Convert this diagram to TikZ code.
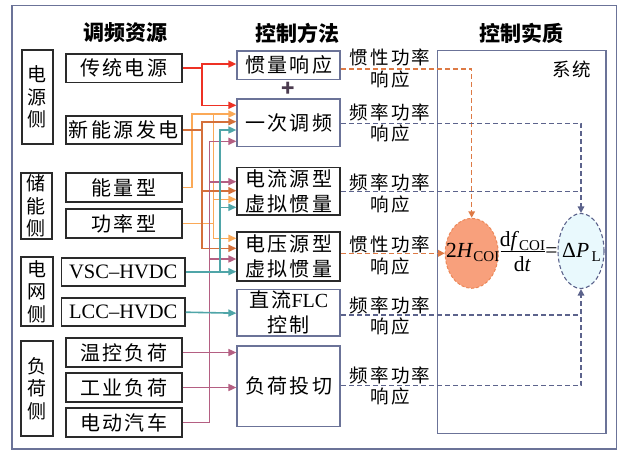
\documentclass[tikz,border=0pt]{standalone}
\usepackage{fontspec}
\setmainfont{Liberation Serif}
\newfontfamily\cjk[LetterSpace=12]{Noto Sans CJK SC}
\newfontfamily\cjkh{Noto Sans CJK SC}
\usetikzlibrary{arrows.meta,shapes.geometric}
\definecolor{gb}{HTML}{6B7398}
\definecolor{bk}{HTML}{2A2A2A}
\definecolor{cred}{HTML}{EE3124}
\definecolor{clo}{HTML}{FBA957}
\definecolor{cdo}{HTML}{D4703A}
\definecolor{ctl}{HTML}{4FA5A8}
\definecolor{cpk}{HTML}{B45F82}
\definecolor{dor}{HTML}{DD7A45}
\definecolor{dgb}{HTML}{5C638C}
\definecolor{efill}{HTML}{F8A07C}
\definecolor{eline}{HTML}{EC8858}
\definecolor{bfill}{HTML}{E9F9FD}
\definecolor{pl}{HTML}{4B3B4F}
\begin{document}
\begin{tikzpicture}[x=1pt,y=-1pt,
  rbox/.style={draw=bk,line width=1.6pt,inner sep=0pt,minimum width=116pt,minimum height=28.5pt,font=\cjk\fontsize{20}{24}\selectfont},
  lbox/.style={rbox,minimum width=123.3pt,minimum height=28pt,font=\rmfamily\fontsize{20.5}{24}\selectfont},
  sbox/.style={draw=bk,line width=1.6pt,inner sep=0pt,minimum width=31pt,align=center,font=\cjk\fontsize{19}{22.5}\selectfont},
  mbox/.style={draw=gb,line width=1.6pt,inner sep=0pt,minimum width=103pt,align=center,font=\cjk\fontsize{20}{25}\selectfont},
  kbox/.style={mbox,draw=bk},
  ttl/.style={font=\cjkh\bfseries\fontsize{21}{24}\selectfont},
  lbl/.style={align=center,inner sep=0pt,font=\cjk\fontsize{18.5}{21.5}\selectfont},
  con/.style={line width=1.6pt,-{Triangle[length=8pt,width=7pt]}},
  dsh/.style={line width=1.5pt,dash pattern=on 5pt off 3pt},
  dtip/.style={-{Triangle[length=6.5pt,width=6.5pt]}},
  fm/.style={inner sep=0pt,font=\rmfamily\fontsize{21.5}{24}\selectfont}
]
\useasboundingbox (0,0) rectangle (618,450);
\draw[gb,line width=1.5pt] (12,5.5) rectangle (616.7,449);

% titles
\node[ttl] (t1) at (125,33) {调频资源};
\node[ttl] (t2) at (297,33) {控制方法};
\node[ttl] (t3) at (521.7,33) {控制实质};

% side labels
\node[sbox,minimum height=94pt] (s1) at (37.2,97) {电\\源\\侧};
\node[sbox,minimum height=66pt] (s2) at (36.5,206) {储\\能\\侧};
\node[sbox,minimum height=69pt,minimum width=32pt] (s3) at (37,291.5) {电\\网\\侧};
\node[sbox,minimum height=95pt,minimum width=32pt] (s4) at (37,388.4) {负\\荷\\侧};

% resources
\node[rbox] (r1) at (123.7,68.2) {传统电源};
\node[rbox] (r2) at (123.7,130) {新能源发电};
\node[rbox] (r3) at (123.7,187.5) {能量型};
\node[rbox] (r4) at (123.7,223.5) {功率型};
\node[lbox] (r5) at (123.3,271.7) {VSC–HVDC};
\node[lbox] (r6) at (123.3,312.2) {LCC–HVDC};
\node[rbox] (r7) at (123.7,352.5) {温控负荷};
\node[rbox] (r8) at (123.7,387.5) {工业负荷};
\node[rbox] (r9) at (123.7,422.5) {电动汽车};

% methods
\node[mbox,minimum height=28.6pt] (m1) at (288.7,65) {惯量响应};
\node[font=\cjkh\bfseries\fontsize{22}{22}\selectfont,text=pl,inner sep=0pt] (pl) at (288,89) {+};
\node[mbox,minimum height=47.7pt] (m2) at (288.7,122.8) {一次调频};
\node[kbox,minimum height=47.3pt] (m3) at (288.7,191.3) {电流源型\\虚拟惯量};
\node[kbox,minimum height=49pt] (m4) at (288.7,256.2) {电压源型\\虚拟惯量};
\node[mbox,minimum height=46.7pt] (m5) at (288.7,312.7) {直流{\rmfamily FLC}\\控制};
\node[mbox,minimum height=80.7pt] (m6) at (288.7,386.3) {负荷投切};

% system
\node[draw=gb,line width=1.6pt,minimum width=168.7pt,minimum height=382.7pt,inner sep=0pt] (sys) at (521.7,242) {};
\node[inner sep=0pt,font=\cjk\fontsize{18.5}{21}\selectfont] (sl) at (571.7,69.3) {系统};

% response labels
\node[lbl] (l1) at (390,68.7) {惯性功率\\响应};
\node[lbl] (l2) at (390,122.8) {频率功率\\响应};
\node[lbl] (l3) at (390,193.5) {频率功率\\响应};
\node[lbl] (l4) at (390,255.5) {惯性功率\\响应};
\node[lbl] (l5) at (390,315.8) {频率功率\\响应};
\node[lbl] (l6) at (390,386) {频率功率\\响应};

% ellipses and formula
\node[ellipse,draw=eline,fill=efill,dash pattern=on 3pt off 2pt,line width=1pt,minimum width=53pt,minimum height=70pt,inner sep=0pt] (e1) at (471.7,253.3) {};
\node[ellipse,draw=dgb,fill=bfill,dash pattern=on 4pt off 2.5pt,line width=1.1pt,minimum width=46pt,minimum height=75pt,inner sep=0pt] (e2) at (581,251) {};
\node[fm,anchor=base west] (f1) at (446,257) {2\textit{H}\raisebox{-4pt}{\fontsize{15}{15}\selectfont COI}};
\node[fm,anchor=base] (f2) at (522.5,246) {d\textit{f}\raisebox{-4pt}{\fontsize{15}{15}\selectfont COI}};
\node[fm,anchor=base] (f3) at (522.5,271) {d\textit{t}};
\coordinate (fb1) at (500.5,251);
\coordinate (fb2) at (545,251);
\draw[line width=0.9pt] (fb1) -- (fb2);
\node[fm,anchor=base] (f4) at (551.5,257) {=};
\node[fm,anchor=base west] (f5) at (562,257) {Δ\textit{P}\raisebox{-4pt}{\fontsize{15}{15}\selectfont \,L}};

% junction columns
\coordinate (xlo) at (192,0);
\coordinate (xrd) at (202,0);
\coordinate (xpk) at (209.3,0);
\coordinate (xlp) at (213.5,0);
\coordinate (xtl) at (220,0);

% red
\draw[con,cred] (r1.east) -- (r1.east -| xrd) |- ([yshift=1pt]m1.west);
\draw[con,cred] (r1.east -| xrd) |- ([yshift=17.5pt]m2.west);
% light orange
\draw[con,clo] (r3.east) -- (r3.east -| xlo) |- ([yshift=8.8pt]m2.west);
\draw[con,clo] ([yshift=8.8pt]m2.west -| xlp) |- ([yshift=-8pt]m3.west);
\draw[con,clo] (r4.east) -- (r4.east -| xlp) |- ([yshift=17.9pt]m4.west);
\draw[line width=1.6pt,clo] ([yshift=8.8pt]m2.west -| xlp) -- (r4.east -| xlp);
% dark orange
\draw[con,cdo] (r2.east) -- (r2.east -| xrd) |- ([yshift=1.1pt]m2.west);
\draw[con,cdo] (r2.east -| xrd) |- ([yshift=0.6pt]m3.west);
\draw[con,cdo] (r2.east -| xrd) |- ([yshift=7.9pt]m4.west);
% pink
\draw[con,cpk] (r9.east) -- (r9.east -| xpk) |- ([yshift=-18.5pt]m2.west);
\draw[con,cpk] (r9.east -| xpk) |- ([yshift=9.6pt]m3.west);
\draw[con,cpk] (r9.east -| xpk) |- ([yshift=-2.8pt]m4.west);
\draw[con,cpk] (r7.east) -- ([yshift=33.8pt]m6.west);
\draw[con,cpk] (r8.east) -- ([yshift=-1.2pt]m6.west);
% teal
\draw[con,ctl] (r5.east) -- ([yshift=-15.5pt]m4.west);
\draw[con,ctl] (r5.east -| xtl) |- ([yshift=-16pt]m3.west);
\draw[con,ctl] (r5.east -| xtl) |- ([yshift=-7.2pt]m2.west);
\draw[con,ctl] (r6.east) -- ([yshift=-0.5pt]m5.west);

% dashed
\draw[dsh,dor,dtip] ([yshift=-4pt]m1.east) -| (e1.north);
\draw[dsh,dor,dtip] ([yshift=2.9pt]m4.east) -- (e1.west);
\draw[dsh,dgb,dtip] ([yshift=-0.5pt]m2.east) -| (e2.north);
\draw[dsh,dgb] (m3.east) -- (m3.east -| e2.north);
\draw[dsh,dgb] ([yshift=-2.3pt]m5.east) -- ([yshift=-2.3pt]m5.east -| e2.south);
\draw[dsh,dgb,dtip] ([yshift=0.6pt]m6.east) -| (e2.south);
\end{tikzpicture}
\end{document}
